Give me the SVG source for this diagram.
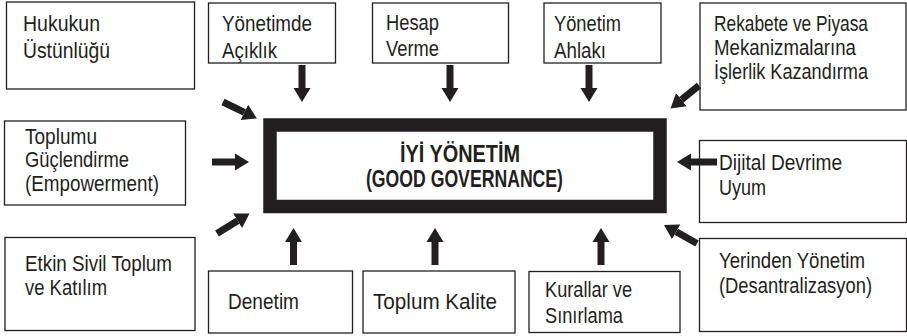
<svg xmlns="http://www.w3.org/2000/svg" width="907" height="336" viewBox="0 0 907 336">
<defs>
<style>
.box{fill:#fff;stroke:#231f20;stroke-width:1.3}
.t{font-family:"Liberation Sans",Arial,sans-serif;fill:#231f20}
.b{font-family:"Liberation Sans",Arial,sans-serif;font-weight:bold;fill:#231f20;text-anchor:middle}
.arr{stroke:#231f20;stroke-width:7;fill:none;marker-end:url(#ah)}
</style>
<marker id="ah" markerUnits="userSpaceOnUse" markerWidth="15" markerHeight="18" refX="0" refY="8.5" orient="auto" viewBox="0 0 15 17">
<path d="M0,0 L14,8.5 L0,17 Z" fill="#231f20"/>
</marker>
</defs>
<rect width="907" height="336" fill="#fff"/>

<g id="center" font-size="23">
<rect x="270" y="125" width="390" height="81.5" fill="#fff" stroke="#231f20" stroke-width="13.5"/>
<text class="b" x="460" y="162" textLength="120" lengthAdjust="spacingAndGlyphs">İYİ YÖNETİM</text>
<text class="b" x="464.5" y="186.5" textLength="197" lengthAdjust="spacingAndGlyphs">(GOOD GOVERNANCE)</text>
</g>

<g font-size="21.5">
<g id="hukuk">
<rect class="box" x="6.5" y="2" width="188" height="87"/>
<text class="t" x="23" y="31" textLength="77" lengthAdjust="spacingAndGlyphs">Hukukun</text>
<text class="t" x="23" y="57.5" textLength="87" lengthAdjust="spacingAndGlyphs">Üstünlüğü</text>
</g>
<g id="aciklik">
<rect class="box" x="208.5" y="3" width="127" height="60"/>
<text class="t" x="222" y="31" textLength="90" lengthAdjust="spacingAndGlyphs">Yönetimde</text>
<text class="t" x="222" y="57.5" textLength="55" lengthAdjust="spacingAndGlyphs">Açıklık</text>
</g>
<g id="hesap">
<rect class="box" x="372.5" y="3" width="136" height="60"/>
<text class="t" x="386" y="29.5" textLength="53" lengthAdjust="spacingAndGlyphs">Hesap</text>
<text class="t" x="386" y="56" textLength="53" lengthAdjust="spacingAndGlyphs">Verme</text>
</g>
<g id="ahlak">
<rect class="box" x="544" y="3" width="117" height="60"/>
<text class="t" x="554" y="31" textLength="67" lengthAdjust="spacingAndGlyphs">Yönetim</text>
<text class="t" x="554" y="57.5" textLength="52" lengthAdjust="spacingAndGlyphs">Ahlakı</text>
</g>
<g id="rekabet">
<rect class="box" x="700" y="3" width="206" height="107"/>
<text class="t" x="714" y="31" textLength="154" lengthAdjust="spacingAndGlyphs">Rekabete ve Piyasa</text>
<text class="t" x="714" y="55" textLength="142" lengthAdjust="spacingAndGlyphs">Mekanizmalarına</text>
<text class="t" x="714" y="79" textLength="154" lengthAdjust="spacingAndGlyphs">İşlerlik Kazandırma</text>
</g>
<g id="guclendirme">
<rect class="box" x="4.5" y="121" width="181" height="84"/>
<text class="t" x="25" y="143.5" textLength="72" lengthAdjust="spacingAndGlyphs">Toplumu</text>
<text class="t" x="25" y="167" textLength="104" lengthAdjust="spacingAndGlyphs">Güçlendirme</text>
<text class="t" x="25" y="190.5" textLength="134" lengthAdjust="spacingAndGlyphs">(Empowerment)</text>
</g>
<g id="dijital">
<rect class="box" x="699.5" y="140.5" width="207" height="82"/>
<text class="t" x="719" y="170" textLength="123" lengthAdjust="spacingAndGlyphs">Dijital Devrime</text>
<text class="t" x="719" y="194.5" textLength="47" lengthAdjust="spacingAndGlyphs">Uyum</text>
</g>
<g id="sivil">
<rect class="box" x="5" y="237.5" width="190" height="93"/>
<text class="t" x="25" y="270.5" textLength="147" lengthAdjust="spacingAndGlyphs">Etkin Sivil Toplum</text>
<text class="t" x="25" y="295" textLength="82" lengthAdjust="spacingAndGlyphs">ve Katılım</text>
</g>
<g id="denetim">
<rect class="box" x="208.5" y="271" width="144" height="62"/>
<text class="t" x="228" y="309" textLength="71" lengthAdjust="spacingAndGlyphs">Denetim</text>
</g>
<g id="kalite">
<rect class="box" x="363" y="271" width="152" height="62"/>
<text class="t" x="373" y="309" textLength="124" lengthAdjust="spacingAndGlyphs">Toplum Kalite</text>
</g>
<g id="kurallar">
<rect class="box" x="529" y="271.5" width="151" height="61"/>
<text class="t" x="545" y="296.5" textLength="87" lengthAdjust="spacingAndGlyphs">Kurallar ve</text>
<text class="t" x="545" y="323" textLength="78" lengthAdjust="spacingAndGlyphs">Sınırlama</text>
</g>
<g id="yerinden">
<rect class="box" x="699.5" y="238.5" width="207" height="93"/>
<text class="t" x="719" y="268" textLength="146" lengthAdjust="spacingAndGlyphs">Yerinden Yönetim</text>
<text class="t" x="719" y="293" textLength="153" lengthAdjust="spacingAndGlyphs">(Desantralizasyon)</text>
</g>
</g>

<g id="connectors">
<line class="arr" x1="302" y1="65" x2="302" y2="88"/>
<line class="arr" x1="450" y1="65" x2="450" y2="88"/>
<line class="arr" x1="589" y1="65" x2="589" y2="88"/>
<line class="arr" x1="293.5" y1="265" x2="293.5" y2="242"/>
<line class="arr" x1="435" y1="265" x2="435" y2="242"/>
<line class="arr" x1="601" y1="265" x2="601" y2="242"/>
<line class="arr" x1="212" y1="162" x2="235" y2="162"/>
<line class="arr" x1="717" y1="162" x2="691" y2="162"/>
<line class="arr" x1="223" y1="102" x2="244.4" y2="112.4"/>
<line class="arr" x1="217" y1="233.5" x2="237.6" y2="220.8"/>
<line class="arr" x1="699" y1="85.5" x2="681.4" y2="99.7"/>
<line class="arr" x1="697" y1="243.5" x2="676.2" y2="231.8"/>
</g>
</svg>
